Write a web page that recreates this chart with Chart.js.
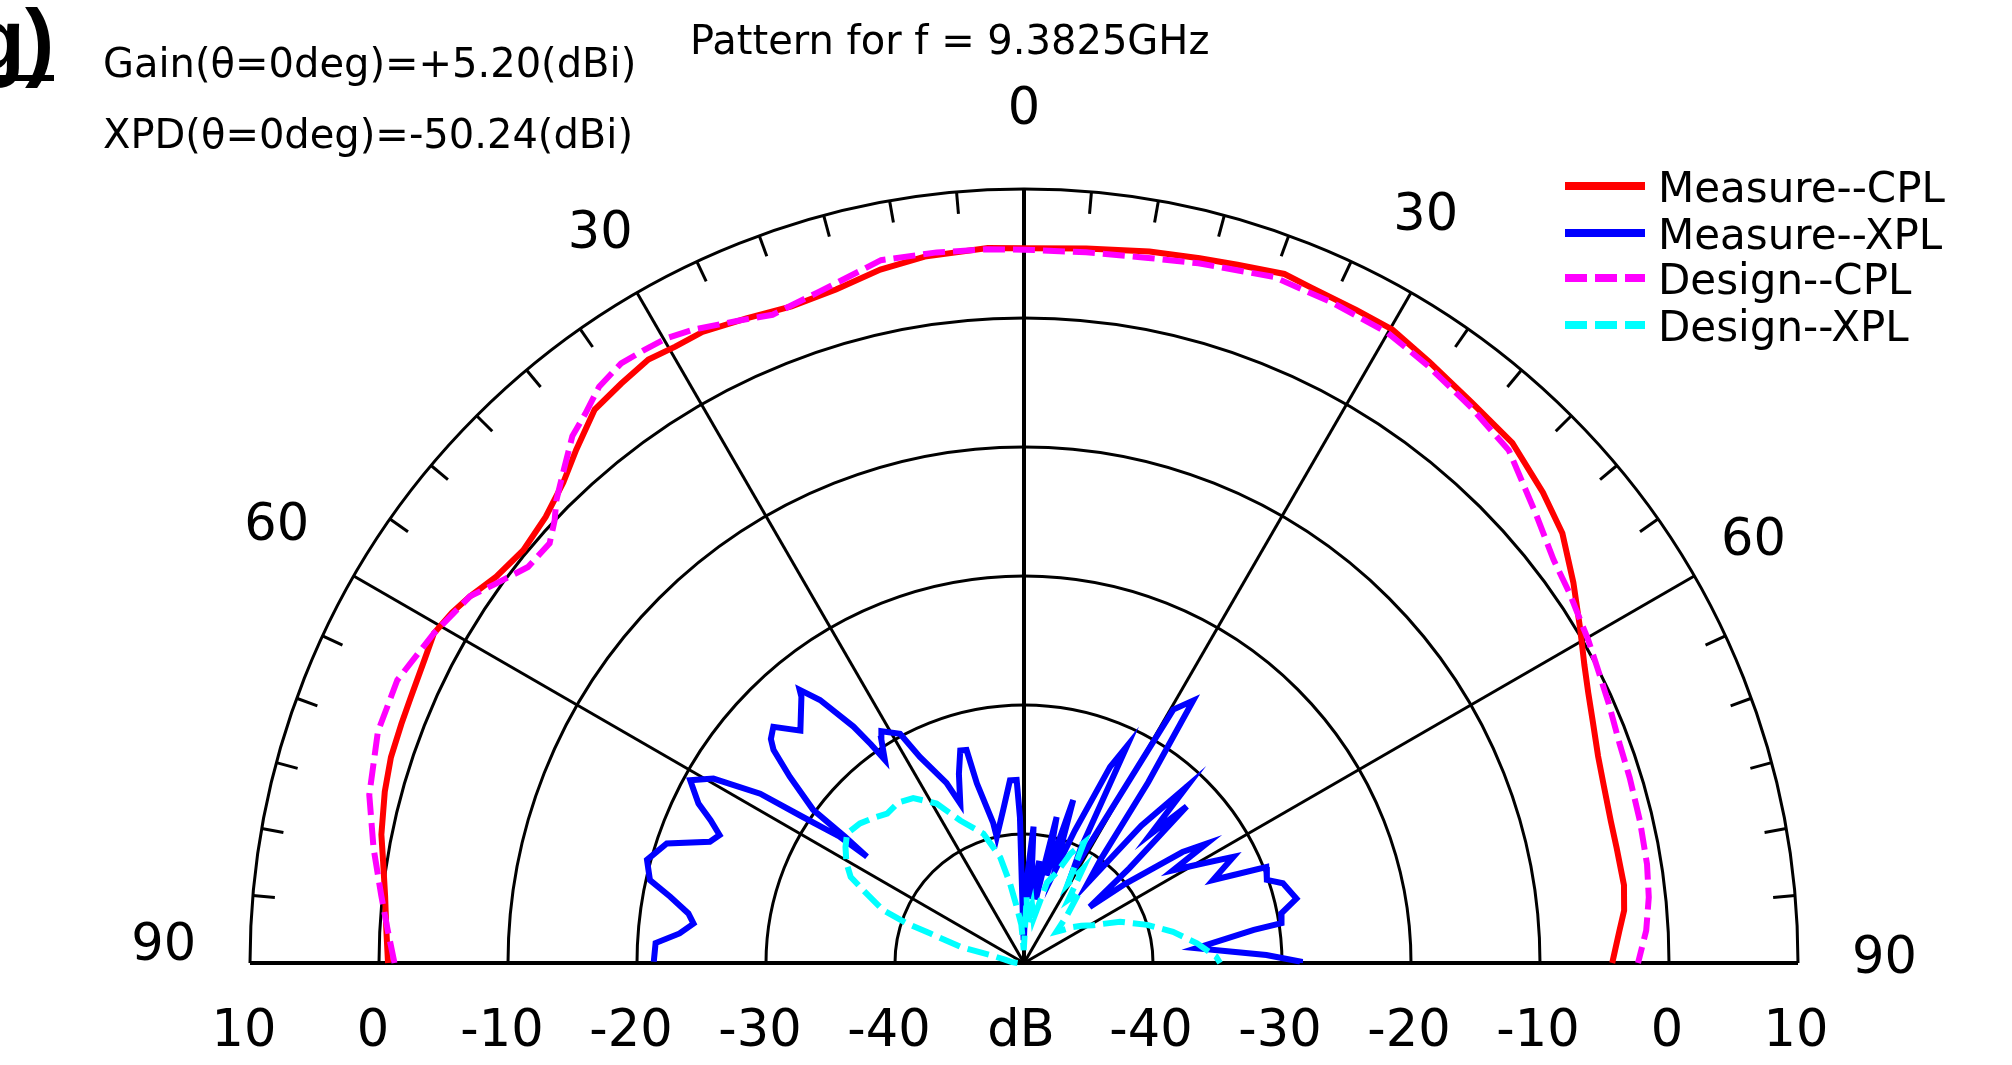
<!DOCTYPE html>
<html>
<head>
<meta charset="utf-8">
<title>Pattern for f = 9.3825GHz</title>
<script src="https://cdn.jsdelivr.net/npm/chart.js@4.4.1/dist/chart.umd.min.js"></script>
<style>
  html, body { margin: 0; padding: 0; background: #fff; }
  canvas { display: block; }
</style>
</head>
<body>
<canvas id="pattern" width="2012" height="1065"></canvas>
<script>
/* Half-plane polar radiation pattern, drawn on a scatter chart. */

// radial axis: centre is -50 dB, outer ring +10 dB
const DB_MIN = -50;
const DB_MAX = 10;
const ringDb = [-40, -30, -20, -10, 0, 10];
const ringLabels = ['-40', '-30', '-20', '-10', '0', '10'];
const spokeAngles = [-60, -30, 0, 30, 60];
const angleLabels = [-90, -60, -30, 0, 30, 60, 90];
// where each angle label sits (angle in deg, radius in dB units from centre)
const angleLabelAt = [[-88.9, 66.7], [-59.7, 67.1], [-30.2, 65.3], [0, 66.1], [28.3, 65.7], [60, 65.3], [89.8, 66.7]];

const seriesNames = ['Measure--CPL', 'Measure--XPL', 'Design--CPL', 'Design--XPL'];

// Measure--CPL
const cplMeasAngle = [-90, -87, -84, -81, -78.7, -75, -72, -69, -66.7, -63, -60.8, -58.5, -56.5, -53.8,
  -50.5, -47, -43.8, -41.1, -37.8, -34.8, -31.9, -29.5, -27, -23.3, -19.5, -15.6, -11.7, -8, -2.9, 0,
  5, 10, 14, 17, 20.7, 23, 27, 30.2, 34, 38.7, 43.2, 47.8, 51.4, 55.3, 59, 62, 64.4, 67, 70.2, 73,
  76.4, 79, 82.6, 85, 87, 90];
const cplMeasDb = [-0.7, -0.5, -0.2, 0.3, 0.8, 1.3, 1.6, 1.7, 1.8, 2.1, 2.4, 2.0, 1.5, 0.7,
  0.3, 0.7, 1.6, 2.8, 4.3, 4.7, 5.1, 4.9, 4.9, 4.4, 4.0, 4.2, 4.9, 5.3, 5.5, 5.4,
  5.6, 6.0, 6.3, 6.6, 7.1, 6.9, 6.8, 6.8, 6.2, 5.6, 5.3, 4.3, 3.4, 1.8, 0.3, -0.8, -1.5, -2.1, -2.7, -3.0,
  -3.2, -3.2, -3.1, -3.3, -3.8, -4.4];

// Measure--XPL
const xplMeasAngle = [-89.8, -86.9, -85.1, -83.2, -81.6, -79.4, -77.5, -74.7, -71.5, -68.9, -67.2, -65.5,
  -63.9, -61.3, -59.3, -57.3, -56.6, -55.6, -55.9, -54.8, -54.0, -51.5, -49.6, -48.5, -46.7, -43.9,
  -39.9, -39.4, -37.8, -35.8, -35.0, -34.4, -32.5, -31.6, -28.4, -26.8, -23.3, -21.8, -19.0, -16.7,
  -15.1, -14.7, -12.4, -12.2, -7.7, -4.4, -2.3, -1.6, -1.5, -1.0,
  0, 1.5, 4, 6, 8.5, 10.5, 12.6, 14.5, 16.8, 18.5, 21, 23.7, 25.4, 26.4, 28, 30.5, 32.8, 34.5, 36.5,
  38.5, 40.5, 42.7, 44.5, 46.1, 48, 49.5, 52, 55, 56.8, 58.1, 60.5, 63.1, 66.3, 68.4, 71.1, 72.9,
  76.7, 79.1, 81.2, 81.8, 83.1, 85.1, 86.9, 88.1, 89.7, 90];
const xplMeasDb = [-21.3, -21.4, -23.2, -24.2, -23.7, -22.1, -20.3, -19.7, -20.8, -23.9, -24.4, -23.3,
  -21.9, -20.5, -22.0, -25.7, -29.3, -32.6, -35.3, -33.0, -29.8, -26.8, -24.5, -23.8, -23.3, -25.0,
  -23.1, -22.6, -24.2, -27.4, -29.3, -30.9, -29.4, -28.9, -29.8, -32.1, -34.8, -36.7, -34.5, -32.8,
  -32.9, -35.6, -38.9, -40.0, -38.0, -35.8, -35.8, -38.7, -45.0, -48.0,
  -48.0, -44.0, -39.4, -45.0, -42.0, -45.0, -38.4, -43.0, -36.8, -42.5, -39.0, -33.4, -31.4, -40.2, -42.0,
  -27.2, -25.8, -33.0, -40.0, -42.0, -36.0, -31.4, -36.0, -32.5, -39.0, -43.3, -40.0, -35.0, -33.1,
  -36.4, -34.5, -31.8, -34.0, -29.8, -30.1, -29.0, -28.3, -29.7, -29.8, -32.0, -34.2, -36.6, -33.8,
  -31.2, -28.6, -28.6];

// Design--CPL
const cplDesAngle = [-90, -87, -84, -80, -75.6, -70.3, -65.7, -60.8, -56.5, -54.3, -51.4, -48.5, -46.7,
  -45.3, -43, -40.6, -38.6, -36.4, -33.9, -31.8, -29.8, -27.6, -24, -21.2, -17, -11.5, -7, -3, 0, 5,
  10, 14, 20, 25, 30, 34, 38.7, 43.4, 48.7, 52.7, 55.8, 60.2, 62.7, 66, 69.8, 73, 77, 81, 84, 87, 90];
const cplDesDb = [-1.2, -0.6, 0.1, 1.2, 2.4, 3.2, 3.3, 2.4, 1.5, 0.4, -0.8, -0.9, 0.0,
  1.0, 2.3, 3.8, 4.5, 5.5, 6.0, 5.9, 5.8, 5.4, 4.5, 3.9, 4.4, 5.6, 5.5, 5.4, 5.3, 5.3,
  5.5, 5.9, 6.6, 6.5, 6.4, 5.9, 5.3, 4.7, 2.8, 1.6, 1.1, 0.4, 0.0, -0.4, -0.8, -0.9, -1.0, -1.1, -1.3,
  -1.7, -2.4];

// Design--XPL
const xplDesAngle = [-90, -85, -80, -76.8, -75.7, -72.5, -71.3, -69.4, -65.6, -63.6, -60.6, -57, -53.8,
  -49.6, -46, -42.5, -38, -33.9, -28.7, -24.1, -17.4, -12.7, -10, -7.4, -4, -1, 2.3, 5, 8, 12, 16,
  20, 23, 26.5, 29, 32, 35, 38, 42, 46, 50, 53.6, 57, 61.3, 66.7, 72.8, 78.2, 83.5, 88.1, 90];
const xplDesDb = [-49.5, -49.0, -48.5, -47.3, -44.9, -42.4, -40.4, -38.3, -36.3, -35.0, -34.2, -33.5, -33.0,
  -33.3, -33.8, -34.3, -34.2, -34.6, -35.9, -37.9, -39.5, -41.6, -43.7, -45.6, -47.0, -49.0, -44.9, -47.0,
  -45.5, -46.5, -43.5, -42.5, -40.8, -39.6, -43.0, -41.4, -44.0, -43.0, -45.0, -46.5, -46.0, -45.3, -44.7,
  -43.9, -41.9, -40.0, -38.2, -36.5, -35.1, -34.8];

const FONT = "'DejaVu Sans', Verdana, sans-serif";

function toXY(angles, dbs) {
    return angles.map((a, i) => {
        const r = Math.max(dbs[i] - DB_MIN, 0);
        const t = a * Math.PI / 180;
        return { x: r * Math.sin(t), y: r * Math.cos(t) };
    });
}

const polarGrid = {
    id: 'polarGrid',
    beforeDatasetsDraw(chart) {
        const { ctx } = chart;
        const xs = chart.scales.x, ys = chart.scales.y;
        const cx = xs.getPixelForValue(0), cy = ys.getPixelForValue(0);
        const u = xs.getPixelForValue(1) - cx;
        const R = (DB_MAX - DB_MIN) * u;
        ctx.save();
        ctx.strokeStyle = '#000';
        ctx.lineWidth = 3;
        ringDb.forEach((d) => {
            ctx.beginPath();
            ctx.arc(cx, cy, (d - DB_MIN) * u, Math.PI, 2 * Math.PI);
            ctx.stroke();
        });
        spokeAngles.forEach((a) => {
            const t = a * Math.PI / 180;
            ctx.lineWidth = a === 0 ? 4 : 3;
            ctx.beginPath();
            ctx.moveTo(cx, cy);
            ctx.lineTo(cx + R * Math.sin(t), cy - R * Math.cos(t));
            ctx.stroke();
        });
        ctx.lineWidth = 4;
        ctx.beginPath();
        ctx.moveTo(cx - R, cy);
        ctx.lineTo(cx + R, cy);
        ctx.stroke();
        // 5 degree ticks on the outer ring
        ctx.lineWidth = 3;
        for (let a = -85; a <= 85; a += 5) {
            if (a % 30 === 0) continue;
            const t = a * Math.PI / 180;
            ctx.beginPath();
            ctx.moveTo(cx + R * Math.sin(t), cy - R * Math.cos(t));
            ctx.lineTo(cx + (R - 22) * Math.sin(t), cy - (R - 22) * Math.cos(t));
            ctx.stroke();
        }
        ctx.restore();
    },
    afterDraw(chart) {
        const { ctx } = chart;
        const xs = chart.scales.x, ys = chart.scales.y;
        const cx = xs.getPixelForValue(0), cy = ys.getPixelForValue(0);
        const u = xs.getPixelForValue(1) - cx;
        ctx.save();
        ctx.fillStyle = '#000';

        // angle labels
        ctx.font = '51px ' + FONT;
        ctx.textAlign = 'center';
        ctx.textBaseline = 'middle';
        angleLabels.forEach((a, i) => {
            const t = angleLabelAt[i][0] * Math.PI / 180;
            const lr = angleLabelAt[i][1] * u;
            ctx.fillText(String(Math.abs(a)), cx + lr * Math.sin(t), cy - lr * Math.cos(t));
        });

        // dB labels along the base line
        ringDb.forEach((d, i) => {
            const r = (d - DB_MIN) * u;
            ctx.fillText(ringLabels[i], cx - r - 6, cy + 70);
            ctx.fillText(ringLabels[i], cx + r - 2, cy + 70);
        });
        ctx.fillText('dB', cx - 3, cy + 70);

        // header texts
        ctx.textAlign = 'left';
        ctx.textBaseline = 'alphabetic';
        ctx.font = '40px ' + FONT;
        ctx.fillText('Gain(\u03b8=0deg)=+5.20(dBi)', 103, 77);
        ctx.fillText('XPD(\u03b8=0deg)=-50.24(dBi)', 103, 148);
        ctx.fillText('Pattern for f = 9.3825GHz', 690, 54);

        // panel letter, cut by the left edge
        ctx.font = 'bold 88px "Liberation Sans", Arial, sans-serif';
        ctx.fillText('(g)', -58, 70);
        ctx.fillRect(0, 75, 54, 6);

        // legend
        ctx.font = '42px ' + FONT;
        const rows = [186, 233, 278, 325];
        chart.data.datasets.forEach((ds, i) => {
            ctx.strokeStyle = ds.borderColor;
            ctx.lineWidth = 8;
            ctx.setLineDash(ds.borderDash || []);
            ctx.beginPath();
            ctx.moveTo(1565, rows[i]);
            ctx.lineTo(1645, rows[i]);
            ctx.stroke();
            ctx.setLineDash([]);
            ctx.fillText(seriesNames[i], 1658, rows[i] + 16);
        });
        ctx.restore();
    },
};

new Chart(document.getElementById('pattern'), {
    type: 'scatter',
    data: {
        datasets: [
            { label: seriesNames[0], data: toXY(cplMeasAngle, cplMeasDb), borderColor: '#ff0000', order: 4 },
            { label: seriesNames[1], data: toXY(xplMeasAngle, xplMeasDb), borderColor: '#0000ff', order: 3 },
            { label: seriesNames[2], data: toXY(cplDesAngle, cplDesDb), borderColor: '#ff00ff',
              borderDash: [22, 8], order: 2 },
            { label: seriesNames[3], data: toXY(xplDesAngle, xplDesDb), borderColor: '#00ffff',
              borderDash: [22, 8], order: 1 },
        ].map((d) => Object.assign({
            showLine: true, pointRadius: 0, borderWidth: 6, tension: 0, clip: false,
            backgroundColor: d.borderColor,
        }, d)),
    },
    options: {
        responsive: false,
        animation: false,
        devicePixelRatio: 1,
        layout: { padding: { left: 250, right: 214, top: 189, bottom: 102 } },
        scales: {
            x: { type: 'linear', min: -60, max: 60, display: false },
            y: { type: 'linear', min: 0, max: 60, display: false },
        },
        plugins: { legend: { display: false }, tooltip: { enabled: false } },
    },
    plugins: [polarGrid],
});
</script>
</body>
</html>
